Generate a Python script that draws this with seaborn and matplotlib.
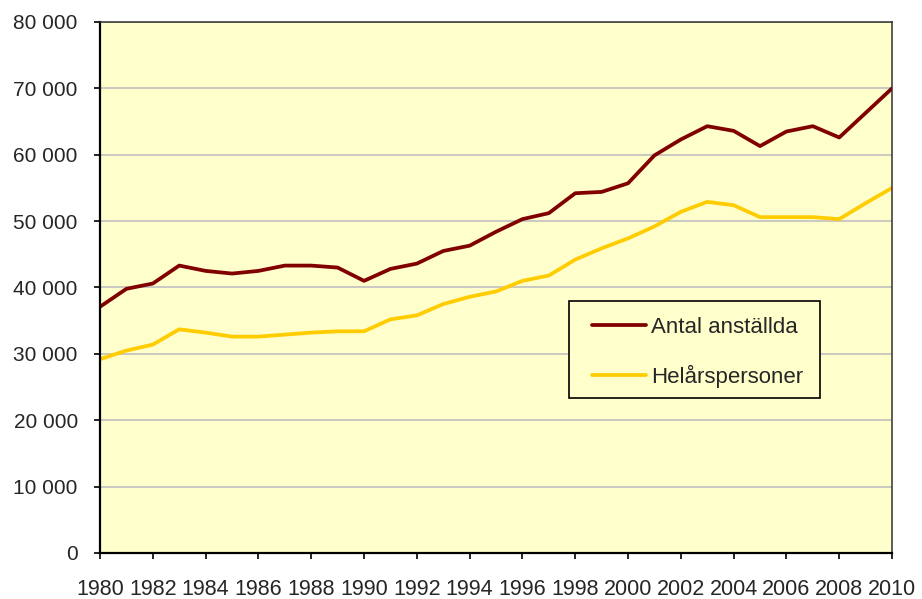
import matplotlib
matplotlib.use("Agg")

import matplotlib.pyplot as plt
import matplotlib.ticker as mticker
from matplotlib.patches import Rectangle
import pandas as pd
import seaborn as sns


YEARS = list(range(1980, 2011))
ANTAL_ANSTALLDA = [
    37100, 39800, 40600, 43300, 42500, 42100, 42500, 43300, 43300, 43000,
    41000, 42800, 43600, 45500, 46300, 48400, 50300, 51200, 54200, 54400,
    55700, 59900, 62300, 64300, 63600, 61300, 63500, 64300, 62600, 66300,
    70000,
]
HELARSPERSONER = [
    29200, 30500, 31400, 33700, 33200, 32600, 32600, 32900, 33200, 33400,
    33400, 35200, 35800, 37500, 38600, 39400, 41000, 41800, 44200, 45900,
    47400, 49200, 51400, 52900, 52400, 50600, 50600, 50600, 50300, 52700,
    55000,
]
SERIES_NAMES = ["Antal anställda", "Helårspersoner"]
COLORS = ["#800000", "#FFCC00"]


def space_thousands(value, _pos):
    return f"{int(value):,}".replace(",", " ")


def main():
    data = pd.concat([
        pd.DataFrame({"År": YEARS, "Antal": ANTAL_ANSTALLDA, "Serie": SERIES_NAMES[0]}),
        pd.DataFrame({"År": YEARS, "Antal": HELARSPERSONER, "Serie": SERIES_NAMES[1]}),
    ])

    sns.set_theme(style="white")
    plt.rcParams["font.family"] = ["Liberation Sans", "DejaVu Sans"]

    fig = plt.figure(figsize=(9.22, 5.99), dpi=100)
    ax = fig.add_axes([0.1085, 0.0768, 0.859, 0.8865])
    ax.set_facecolor("#FFFFCC")

    sns.lineplot(
        data=data,
        x="År",
        y="Antal",
        hue="Serie",
        palette=COLORS,
        linewidth=2.7,
        ax=ax,
    )

    ax.set_xlim(1980, 2010)
    ax.set_ylim(0, 80000)
    ax.set_xticks(range(1980, 2011, 2))
    ax.set_yticks(range(0, 80001, 10000))
    ax.yaxis.set_major_formatter(mticker.FuncFormatter(space_thousands))
    ax.set_xlabel("")
    ax.set_ylabel("")

    ax.grid(axis="y", color="#C0C0C0", linewidth=1.2)
    ax.set_axisbelow(True)

    for side in ["left", "bottom"]:
        ax.spines[side].set_color("black")
        ax.spines[side].set_linewidth(1.6)
    for side in ["top", "right"]:
        ax.spines[side].set_color("#303030")
        ax.spines[side].set_linewidth(1.1)

    ax.tick_params(axis="y", direction="out", length=4, width=1.2, color="black",
                   labelsize=15, pad=12, left=True)
    ax.tick_params(axis="x", direction="out", length=4, width=1.2, color="black",
                   labelsize=15.5, pad=15, bottom=True)

    # legend box drawn separately so the padding can differ horizontally/vertically
    ax.add_patch(Rectangle(
        (0.5922, 0.2919), 0.3169, 0.1827,
        transform=ax.transAxes,
        facecolor="#FFFFCC",
        edgecolor="black",
        linewidth=1.2,
        zorder=4,
    ))
    legend = ax.legend(
        loc="upper left",
        bbox_to_anchor=(0.6212, 0.4444),
        fontsize=16,
        frameon=False,
        borderpad=0,
        borderaxespad=0,
        handlelength=2.45,
        handletextpad=0.22,
        labelspacing=1.2,
        title=None,
    )
    legend.set_zorder(5)
    for line in legend.get_lines():
        line.set_linewidth(2.7)

    fig.savefig("out.png", dpi=100, facecolor="white")
    plt.close(fig)


if __name__ == "__main__":
    main()
